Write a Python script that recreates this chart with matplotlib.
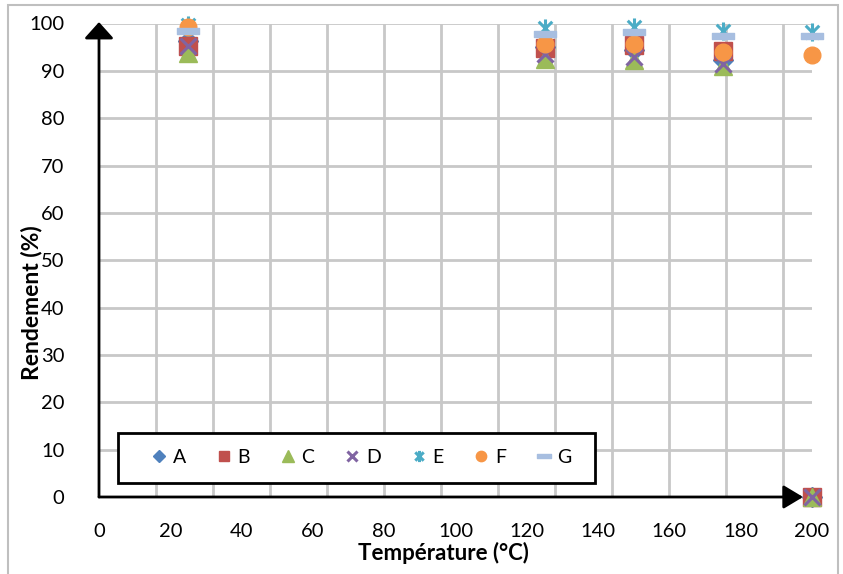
import matplotlib
matplotlib.use("Agg")
import numpy as np
import matplotlib.pyplot as plt
from matplotlib.path import Path
from matplotlib.patches import Rectangle

# Data
temperature = [25, 125, 150, 175, 200]
series_names = ["A", "B", "C", "D", "E", "F", "G"]
rend_A = [96.3, 95.0, 94.4, 92.3, 0.0]
rend_B = [95.3, 94.8, 95.4, 94.2, 0.0]
rend_C = [93.8, 92.5, 92.2, 91.0, 0.0]
rend_D = [95.3, 93.6, 93.0, 91.5, 0.0]
rend_E = [99.6, 99.1, 99.2, 98.5, 98.2]
rend_F = [99.2, 95.6, 95.6, 93.9, 93.4]
rend_G = [98.4, 97.8, 98.3, 97.3, 97.3]

x_ticks = list(range(0, 201, 20))
y_ticks = list(range(0, 101, 10))

plt.rcParams["font.family"] = ["Lato", "DejaVu Sans"]

# Excel-ish custom markers
star = Path([(0, -1), (0, 1), (-0.75, -0.75), (0.75, 0.75), (-0.75, 0.75), (0.75, -0.75)],
            [Path.MOVETO, Path.LINETO, Path.MOVETO, Path.LINETO, Path.MOVETO, Path.LINETO])
dash = Path([(-1, -0.24), (1, -0.24), (1, 0.24), (-1, 0.24), (-1, -0.24)],
            [Path.MOVETO, Path.LINETO, Path.LINETO, Path.LINETO, Path.CLOSEPOLY])

styles = {
    "A": dict(marker="D", ms=10.5, color="#4F81BD"),
    "B": dict(marker="s", ms=12.5, color="#C0504D"),
    "C": dict(marker="^", ms=13.5, color="#9BBB59"),
    "D": dict(marker="x", ms=12, color="#8064A2", mew=2.2),
    "E": dict(marker=star, ms=13, color="#4BACC6", mew=2.2),
    "F": dict(marker="o", ms=12, color="#F79646"),
    "G": dict(marker=dash, ms=15.5, color="#A7BEE0"),
}
values = [rend_A, rend_B, rend_C, rend_D, rend_E, rend_F, rend_G]

fig = plt.figure(figsize=(8.43, 5.74), dpi=100)
ax = fig.add_axes([99 / 843, 1 - 497 / 574, 713 / 843, 473.5 / 574])

# outer chart-area frame
fig.patches.append(Rectangle((8 / 843, -0.1), 830 / 843, 1.1 - 5 / 574, transform=fig.transFigure,
                             fill=False, edgecolor="#BFBFBF", lw=1.5))

ax.set_xlim(0, 200)
ax.set_ylim(0, 100)

# gridlines (vertical ones are spaced 16 apart in the original)
grid_c = "#C8C8C8"
ax.hlines(y_ticks[1:], 0, 200, colors=grid_c, lw=2, zorder=1)
ax.vlines(np.arange(16, 200, 16), 0, 100, colors=grid_c, lw=2, zorder=1)

for name, vals in zip(series_names, values):
    st = styles[name]
    ax.plot(temperature, vals, linestyle="none", marker=st["marker"], markersize=st["ms"],
            color=st["color"], markerfacecolor=st["color"], markeredgecolor=st["color"],
            markeredgewidth=st.get("mew", 1.0), label=name, clip_on=False, zorder=5)

# axis arrows
ax.annotate("", xy=(197.5, 0), xytext=(0, 0), annotation_clip=False,
            arrowprops=dict(arrowstyle="-|>,head_length=0.6,head_width=0.36", color="black",
                            lw=2, mutation_scale=20, shrinkA=0, shrinkB=0), zorder=4)
ax.annotate("", xy=(0, 100.3), xytext=(0, 0), annotation_clip=False,
            arrowprops=dict(arrowstyle="-|>,head_length=0.5,head_width=0.45", color="black",
                            lw=2, mutation_scale=20, shrinkA=0, shrinkB=0), zorder=4)

for s in ax.spines.values():
    s.set_visible(False)
ax.set_xticks(x_ticks)
ax.set_yticks(y_ticks)
ax.tick_params(axis="both", length=0, labelsize=14.5, colors="black")
ax.tick_params(axis="x", pad=19)
ax.tick_params(axis="y", pad=25)

ax.set_xlabel("Température (°C)", fontsize=16, fontweight="bold")
ax.set_ylabel("Rendement (%)", fontsize=16.5, fontweight="bold")
ax.xaxis.set_label_coords(0.483, -0.094)
ax.yaxis.set_label_coords(-0.08, 0.41)

# legend: frameless entries inside a drawn box
ax.add_patch(Rectangle((0.0266, 0.0296), 0.669, 0.105, transform=ax.transAxes,
                       facecolor="white", edgecolor="black", lw=2, zorder=6, clip_on=False))
leg = ax.legend(ncol=7, loc="center", bbox_to_anchor=(0.367, 0.0834), fontsize=14,
                markerscale=0.62, handlelength=1.0, handletextpad=0.2, columnspacing=1.45,
                frameon=False)
leg.set_zorder(7)

fig.savefig("out.png", dpi=100)
